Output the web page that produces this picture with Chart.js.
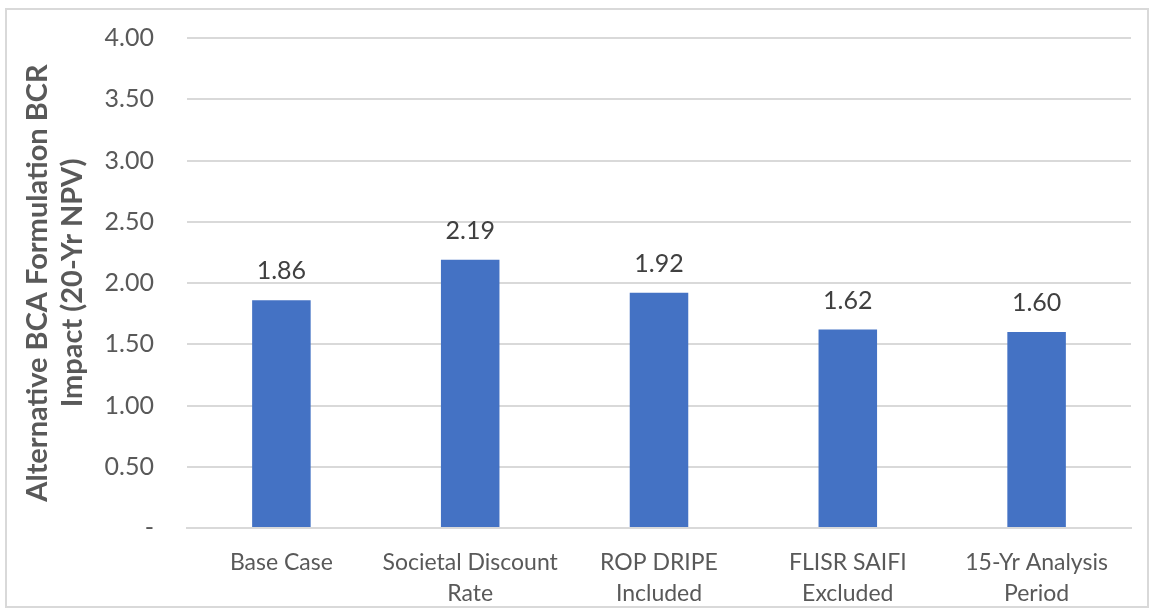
<!DOCTYPE html>
<html>
<head>
<meta charset="utf-8">
<script src="https://cdn.jsdelivr.net/npm/chart.js@4"></script>
<style>
  html, body { margin: 0; padding: 0; background: #ffffff; }
  #wrap { position: relative; width: 1156px; height: 612px; }
  #frame { position: absolute; left: 5px; top: 8px; width: 1144px; height: 600px; border: 2px solid #d9d9d9; box-sizing: border-box; pointer-events: none; }
</style>
</head>
<body>
<div id="wrap">
  <canvas id="bcr" width="1156" height="612"></canvas>
  <div id="frame"></div>
</div>
<script>
const scenarios = [
  ['Base Case'],
  ['Societal Discount', 'Rate'],
  ['ROP DRIPE', 'Included'],
  ['FLISR SAIFI', 'Excluded'],
  ['15-Yr Analysis', 'Period']
];
const bcrValues = [1.86, 2.19, 1.92, 1.62, 1.60];
const axisTitle = ['Alternative BCA Formulation BCR', 'Impact (20-Yr NPV)'];

const FONT = 'Lato, "Open Sans", sans-serif';

// value labels over each bar
const barValueLabels = {
  id: 'barValueLabels',
  afterDatasetsDraw(chart) {
    const ctx = chart.ctx;
    const meta = chart.getDatasetMeta(0);
    ctx.save();
    ctx.font = '25px ' + FONT;
    ctx.fillStyle = '#404040';
    ctx.textAlign = 'center';
    ctx.textBaseline = 'middle';
    meta.data.forEach((bar, i) => {
      ctx.fillText(bcrValues[i].toFixed(2), bar.x, bar.y - 29);
    });
    ctx.restore();
  }
};

new Chart(document.getElementById('bcr'), {
  type: 'bar',
  data: {
    labels: scenarios,
    datasets: [{
      data: bcrValues,
      backgroundColor: '#4472c4',
      borderWidth: 0,
      barPercentage: 0.31,
      categoryPercentage: 1
    }]
  },
  options: {
    responsive: false,
    animation: false,
    layout: { padding: { top: 38, right: 25, left: 0, bottom: 0 } },
    plugins: {
      legend: { display: false },
      tooltip: { enabled: false }
    },
    scales: {
      x: {
        grid: { display: false, drawTicks: false },
        border: { display: true, color: '#d9d9d9', width: 2 },
        ticks: {
          color: '#595959',
          font: { family: FONT, size: 23, lineHeight: 1.35 },
          padding: 19,
          maxRotation: 0,
          autoSkip: false
        },
        afterFit(scale) { scale.height = 84; }
      },
      y: {
        min: 0,
        max: 4,
        // invisible tick marks keep the labels clear of the plot
        grid: { color: '#d9d9d9', lineWidth: 2, drawTicks: true, tickLength: 28, tickColor: 'rgba(0,0,0,0)' },
        border: { display: false },
        ticks: {
          stepSize: 0.5,
          color: '#595959',
          font: { family: FONT, size: 25 },
          padding: 5,
          callback: v => v === 0 ? '-' : v.toFixed(2)
        },
        title: {
          display: true,
          text: axisTitle,
          color: '#595959',
          font: { family: FONT, size: 29, weight: 'bold', lineHeight: 1.2 },
          padding: { top: 20, bottom: 0 }
        },
        afterFit(scale) { scale.width = 187; }
      }
    }
  },
  plugins: [barValueLabels]
});
</script>
</body>
</html>
